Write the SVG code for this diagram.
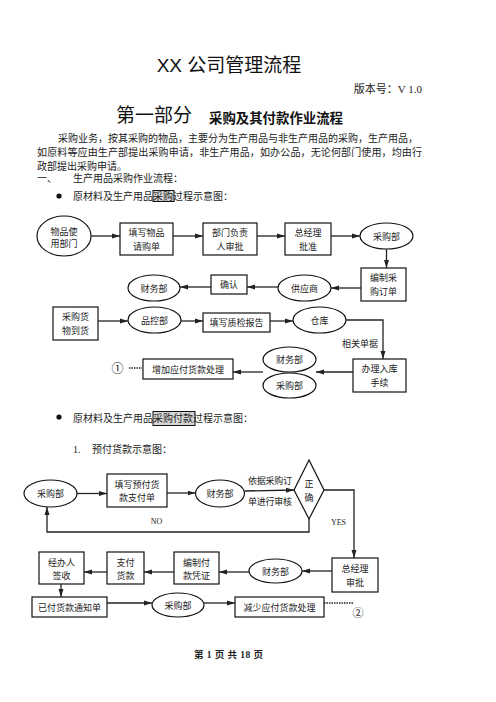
<svg xmlns="http://www.w3.org/2000/svg" width="496" height="702" viewBox="0 0 496 702">
<style>
text{font-family:"Liberation Serif","Noto Sans CJK SC",serif;fill:#222}
.t{font-size:9px;text-anchor:middle}
.l{font-size:9px;text-anchor:start}
.b{font-size:10px}
.h{font-family:"Liberation Sans","Noto Sans CJK SC",sans-serif;fill:#111}
.n rect,.n ellipse,.n polygon{fill:#fff;stroke:#111;stroke-width:1.2}
.c path,.c line,.c polyline{fill:none;stroke:#222;stroke-width:1.3}
.d{stroke-dasharray:1.5 1;stroke-width:1.6}
</style>
<defs>
<marker id="a" markerUnits="userSpaceOnUse" markerWidth="8" markerHeight="6" refX="8" refY="3" orient="auto">
<path d="M0,0.5 L8,3 L0,5.5 z" fill="#222"/>
</marker>
</defs>
<rect width="496" height="702" fill="#fff"/>

<!-- header -->
<text class="h" x="229" y="72" font-size="19" text-anchor="middle">XX 公司管理流程</text>
<text x="422" y="93" font-size="11" text-anchor="end">版本号：V 1.0</text>
<text class="h" x="116" y="122" font-size="19">第一部分</text>
<text class="h" x="209" y="123" font-size="13.4" font-weight="bold" textLength="134">采购及其付款作业流程</text>
<text class="b" x="58" y="142" textLength="360">采购业务，按其采购的物品，主要分为生产用品与非生产用品的采购，生产用品，</text>
<text class="b" x="37" y="156" textLength="385">如原料等应由生产部提出采购申请，非生产用品，如办公品，无论何部门使用，均由行</text>
<text class="b" x="37" y="170">政部提出采购申请。</text>
<text class="b" x="37" y="182">一、</text>
<text class="b" x="73" y="182">生产用品采购作业流程：</text>
<circle cx="59" cy="196" r="2.6" fill="#111"/>
<rect x="153" y="190.5" width="21" height="11" fill="#d6d6d6" stroke="#111" stroke-width="1"/>
<text class="b" x="73" y="200">原材料及生产用品采购过程示意图：</text>

<!-- chart 1 nodes -->
<g class="n">
<g id="n1"><ellipse cx="64" cy="236" rx="27" ry="20"/><text class="t" x="64" y="235">物品使</text><text class="t" x="64" y="246.5">用部门</text></g>
<g id="n2"><rect x="120" y="223" width="53" height="32"/><text class="t" x="146.5" y="236">填写物品</text><text class="t" x="146.5" y="249.5">请购单</text></g>
<g id="n3"><rect x="203" y="223" width="54" height="32"/><text class="t" x="230" y="236">部门负责</text><text class="t" x="230" y="249.5">人审批</text></g>
<g id="n4"><rect x="285" y="223" width="46" height="32"/><text class="t" x="308" y="236">总经理</text><text class="t" x="308" y="249.5">批准</text></g>
<g id="n5"><ellipse cx="386.5" cy="236" rx="26.5" ry="13"/><text class="t" x="386.5" y="239.5">采购部</text></g>
<g id="n6"><rect x="361" y="268" width="45" height="33"/><text class="t" x="383.5" y="281">编制采</text><text class="t" x="383.5" y="294.5">购订单</text></g>
<g id="n7"><ellipse cx="304.5" cy="288" rx="26.5" ry="13"/><text class="t" x="304.5" y="291.5">供应商</text></g>
<g id="n8"><rect x="211" y="275" width="36" height="19"/><text class="t" x="229" y="288">确认</text></g>
<g id="n9"><ellipse cx="154" cy="288" rx="26" ry="13"/><text class="t" x="154" y="291.5">财务部</text></g>
<g id="n10"><rect x="53" y="307" width="45" height="33"/><text class="t" x="75.5" y="320">采购货</text><text class="t" x="75.5" y="333.5">物到货</text></g>
<g id="n11"><ellipse cx="154.5" cy="320" rx="26.5" ry="13"/><text class="t" x="154.5" y="323.5">品控部</text></g>
<g id="n12"><rect x="203" y="313" width="67" height="19"/><text class="t" x="236.5" y="326">填写质检报告</text></g>
<g id="n13"><ellipse cx="319.5" cy="320" rx="26.5" ry="13"/><text class="t" x="319.5" y="323.5">仓库</text></g>
<g id="n14"><rect x="353" y="359" width="53" height="33"/><text class="t" x="379.5" y="372">办理入库</text><text class="t" x="379.5" y="385.5">手续</text></g>
<g id="n15"><ellipse cx="289.5" cy="359.5" rx="26.5" ry="12.5"/><text class="t" x="289.5" y="363">财务部</text></g>
<g id="n16"><ellipse cx="289.5" cy="385.5" rx="26.5" ry="12.5"/><text class="t" x="289.5" y="389">采购部</text></g>
<g id="n17"><rect x="143" y="359" width="90" height="20"/><text class="t" x="188" y="372.5">增加应付货款处理</text></g>
</g>
<text x="117.5" y="373" font-size="12" text-anchor="middle">①</text>
<text class="t" x="360" y="347">相关单据</text>

<!-- chart 2 header -->
<circle cx="59" cy="417" r="2.6" fill="#111"/>
<rect x="153" y="411.5" width="42" height="14" fill="#d6d6d6" stroke="#111" stroke-width="1"/>
<text class="b" x="73" y="422">原材料及生产用品采购付款过程示意图：</text>
<text class="b" x="73" y="453">1.</text>
<text class="b" x="92" y="453">预付货款示意图：</text>

<!-- chart 2 nodes -->
<g class="n">
<g id="m1"><ellipse cx="50.5" cy="493.5" rx="26.5" ry="13.5"/><text class="t" x="50.5" y="497">采购部</text></g>
<g id="m2"><rect x="107" y="474" width="60" height="33"/><text class="t" x="137" y="487.5">填写预付货</text><text class="t" x="137" y="501">款支付单</text></g>
<g id="m3"><ellipse cx="220" cy="493.5" rx="24.5" ry="13.5"/><text class="t" x="220" y="497">财务部</text></g>
<g id="m4"><polygon points="309,460 324,490 309,519 294,490"/><text class="t" x="309" y="487">正</text><text class="t" x="309" y="501">确</text></g>
<g id="m5"><rect x="332" y="558" width="46" height="34"/><text class="t" x="355" y="572">总经理</text><text class="t" x="355" y="586">审批</text></g>
<g id="m6"><ellipse cx="275.5" cy="571" rx="26.5" ry="12"/><text class="t" x="275.5" y="574.5">财务部</text></g>
<g id="m7"><rect x="174" y="552" width="45" height="32"/><text class="t" x="196.5" y="565.5">编制付</text><text class="t" x="196.5" y="579">款凭证</text></g>
<g id="m8"><rect x="107" y="552" width="37" height="32"/><text class="t" x="125.5" y="565.5">支付</text><text class="t" x="125.5" y="579">货款</text></g>
<g id="m9"><rect x="39" y="552" width="45" height="32"/><text class="t" x="61.5" y="565.5">经办人</text><text class="t" x="61.5" y="579">签收</text></g>
<g id="m10"><rect x="32" y="597" width="75" height="20"/><text class="t" x="69.5" y="610.5">已付货款通知单</text></g>
<g id="m11"><ellipse cx="178" cy="605" rx="26" ry="12"/><text class="t" x="178" y="608.5">采购部</text></g>
<g id="m12"><rect x="235" y="597" width="89" height="20"/><text class="t" x="279.5" y="610.5">减少应付货款处理</text></g>
</g>
<text class="l" x="248" y="484" textLength="44">依据采购订</text>
<text class="l" x="248" y="505" textLength="44">单进行审核</text>
<text x="338.5" y="525" font-size="8" text-anchor="middle">YES</text>
<text x="156.5" y="524" font-size="8" text-anchor="middle">NO</text>
<text x="358" y="617" font-size="11" text-anchor="middle">②</text>

<!-- connectors -->
<g class="c">
<line x1="91" y1="236" x2="120" y2="236" marker-end="url(#a)"/>
<line x1="173" y1="236" x2="203" y2="236" marker-end="url(#a)"/>
<line x1="257" y1="236" x2="285" y2="236" marker-end="url(#a)"/>
<line x1="331" y1="236" x2="360" y2="236" marker-end="url(#a)"/>
<line x1="386.5" y1="249" x2="386.5" y2="268" marker-end="url(#a)"/>
<line x1="361" y1="288" x2="331" y2="288" marker-end="url(#a)"/>
<line x1="278" y1="287" x2="247" y2="287" marker-end="url(#a)"/>
<line x1="211" y1="287" x2="180" y2="287" marker-end="url(#a)"/>
<line x1="98" y1="321" x2="128" y2="321" marker-end="url(#a)"/>
<line x1="181" y1="321" x2="203" y2="321" marker-end="url(#a)"/>
<line x1="270" y1="321" x2="293" y2="321" marker-end="url(#a)"/>
<polyline points="346,320 383,320 383,359" marker-end="url(#a)"/>
<line x1="353" y1="372" x2="316" y2="372" marker-end="url(#a)"/>
<line x1="263" y1="372" x2="233" y2="372" marker-end="url(#a)"/>
<line class="d" x1="129" y1="368" x2="142" y2="368"/>

<line x1="77" y1="493.5" x2="107" y2="493.5" marker-end="url(#a)"/>
<line x1="167" y1="493" x2="195.5" y2="493" marker-end="url(#a)"/>
<line x1="244.5" y1="491" x2="294" y2="490" marker-end="url(#a)"/>
<polyline points="324,490 354,490 354,558" marker-end="url(#a)"/>
<polyline points="309,519 309,532 47,532 47,507" marker-end="url(#a)"/>
<line x1="332" y1="571" x2="302" y2="571" marker-end="url(#a)"/>
<line x1="249" y1="572" x2="219" y2="572" marker-end="url(#a)"/>
<line x1="174" y1="572" x2="144" y2="572" marker-end="url(#a)"/>
<line x1="107" y1="572" x2="84" y2="572" marker-end="url(#a)"/>
<line x1="61" y1="584" x2="61" y2="597" marker-end="url(#a)"/>
<line x1="107" y1="603" x2="152" y2="603" marker-end="url(#a)"/>
<line x1="204" y1="603" x2="235" y2="603" marker-end="url(#a)"/>
<line class="d" x1="324" y1="603" x2="354" y2="603"/>
</g>

<!-- footer -->
<text x="194" y="658" font-size="9.5" font-weight="bold" textLength="69">第 1 页 共 18 页</text>
</svg>
